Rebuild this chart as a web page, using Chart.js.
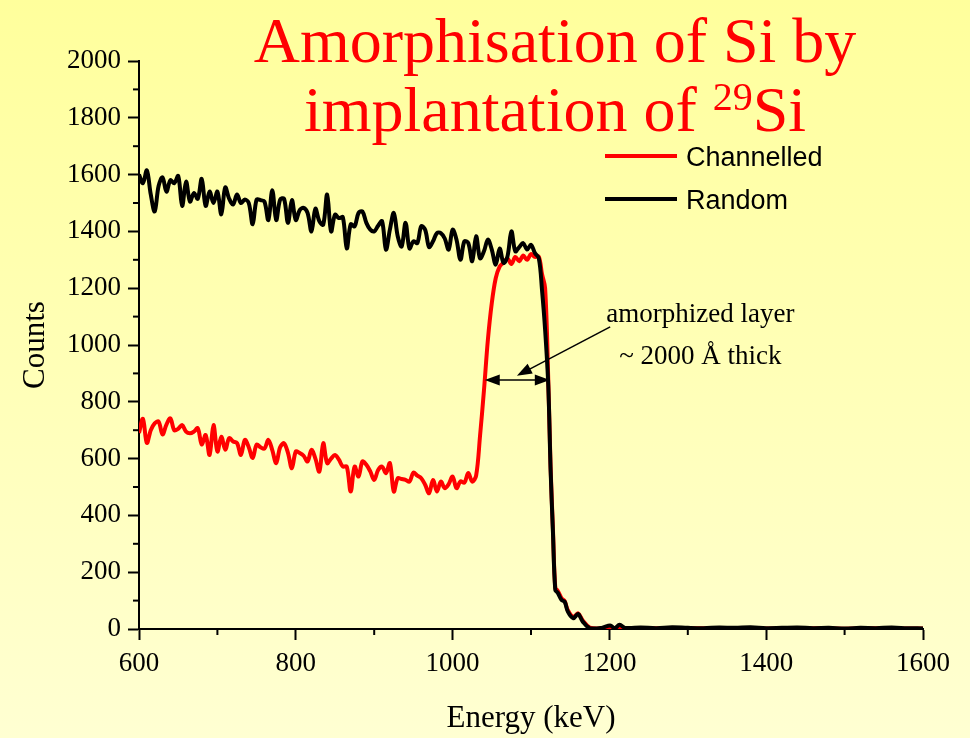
<!DOCTYPE html>
<html>
<head>
<meta charset="utf-8">
<script src="https://cdn.jsdelivr.net/npm/chart.js@4"></script>
<style>
  html, body { margin: 0; padding: 0; }
  body { width: 970px; height: 738px; background: linear-gradient(#ffff9c, #ffffd2); overflow: hidden; }
  canvas { display: block; }
</style>
</head>
<body>
<canvas id="chart" width="970" height="738"></canvas>
<script>
// energies in keV
const energy = [
  600, 605, 610, 615, 620, 625, 630, 635, 640, 645,
  650, 655, 660, 665, 670, 675, 680, 685, 690, 695,
  700, 705, 710, 715, 720, 725, 730, 735, 740, 745,
  750, 755, 760, 765, 770, 775, 780, 785, 790, 795,
  800, 805, 810, 815, 820, 825, 830, 835, 840, 845,
  850, 855, 860, 865, 870, 875, 880, 885, 890, 895,
  900, 905, 910, 915, 920, 925, 930, 935, 940, 945,
  950, 955, 960, 965, 970, 975, 980, 985, 990, 995,
  1000, 1005, 1010, 1015, 1020, 1025, 1030, 1035, 1040, 1045,
  1050, 1055, 1060, 1065, 1070, 1075, 1080, 1085, 1090, 1095,
  1100, 1105, 1110,
  1114, 1118, 1122, 1125, 1128, 1131, 1134, 1139, 1143, 1147,
  1154, 1160, 1166, 1175, 1190, 1201, 1207, 1213, 1220,
  1240, 1260, 1280, 1300, 1320, 1340, 1360, 1380, 1400, 1420,
  1440, 1460, 1480, 1500, 1520, 1540, 1560, 1580, 1600
]

const randomCounts = [
  1600, 1570, 1615, 1530, 1470, 1560, 1590, 1540, 1580, 1570,
  1595, 1490, 1575, 1505, 1535, 1515, 1585, 1490, 1540, 1500,
  1540, 1460, 1555, 1515, 1495, 1530, 1500, 1512, 1500, 1425,
  1512, 1510, 1505, 1440, 1545, 1440, 1512, 1515, 1430, 1510,
  1440, 1475, 1483, 1465, 1400, 1480, 1436, 1424, 1530, 1400,
  1459, 1447, 1450, 1340, 1425, 1418, 1465, 1470, 1430, 1406,
  1400, 1420, 1436, 1336, 1406, 1465, 1383, 1347, 1430, 1340,
  1365, 1359, 1418, 1406, 1345, 1365, 1394, 1394, 1375, 1336,
  1406, 1371, 1300, 1365, 1359, 1295, 1383, 1305, 1330, 1371,
  1336, 1283, 1340, 1289, 1312, 1400, 1330, 1345, 1359, 1336,
  1353, 1324, 1305,
  1195, 1054, 860, 560, 340, 137, 128, 102, 96, 61,
  38, 53, 26, 3, 4, 12, 3, 15, 4,
  5, 3, 6, 4, 3, 5, 4, 6, 3, 4,
  5, 3, 4, 2, 4, 3, 5, 3, 2
]

const channelledCounts = [
  690, 740, 655, 700, 724, 730, 685, 720, 742, 700,
  705, 718, 695, 689, 695, 707, 650, 683, 613, 718,
  625, 677, 631, 672, 660, 655, 613, 666, 640, 602,
  649, 640, 635, 666, 630, 584, 640, 654, 620, 566,
  625, 620, 610, 590, 631, 600, 554, 654, 584, 600,
  613, 596, 572, 572, 484, 572, 537, 590, 578, 555,
  525, 560, 572, 549, 584, 484, 531, 528, 525, 519,
  551, 540, 531, 508, 478, 525, 484, 519, 496, 510,
  537, 496, 520, 515, 549, 519, 540, 680, 840, 1018,
  1148, 1235, 1276, 1290, 1305, 1285, 1310, 1295, 1315, 1300,
  1320, 1310, 1311,
  1250, 1200, 880, 570, 350, 145, 135, 108, 98, 66,
  42, 55, 30, 5, 2, 4, 2, 3, 2,
  2, 3, 1, 2, 3, 2, 1, 3, 2, 2,
  1, 3, 2, 1, 2, 3, 1, 2, 2
]

const seriesNames = ['Channelled', 'Random']
const seriesColors = ['#ff0000', '#000000']

function toPoints (values) {
  return values.map(function (v, i) { return { x: energy[i], y: v } })
}

const serif = '"Liberation Serif", "Times New Roman", serif'
const sans = '"Liberation Sans", Arial, sans-serif'

// minor ticks, titles, legend and annotation
const decorations = {
  id: 'decorations',
  afterDraw: function (chart) {
    const ctx = chart.ctx
    const xs = chart.scales.x
    const ys = chart.scales.y
    const area = chart.chartArea
    ctx.save()
    ctx.strokeStyle = '#000'
    ctx.lineWidth = 2
    for (let v = 100; v < 2000; v += 200) {
      const py = ys.getPixelForValue(v)
      ctx.beginPath(); ctx.moveTo(area.left - 6, py); ctx.lineTo(area.left, py); ctx.stroke()
    }
    for (let v = 700; v < 1600; v += 200) {
      const px = xs.getPixelForValue(v)
      ctx.beginPath(); ctx.moveTo(px, area.bottom); ctx.lineTo(px, area.bottom + 6); ctx.stroke()
    }

    // title
    ctx.fillStyle = '#ff0000'
    ctx.textBaseline = 'alphabetic'
    ctx.textAlign = 'center'
    ctx.font = '64px ' + serif
    ctx.fillText('Amorphisation of Si by', 555, 62)
    const part1 = 'implantation of '
    const sup = '29'
    const part2 = 'Si'
    ctx.font = '64px ' + serif
    const w1 = ctx.measureText(part1).width
    const w3 = ctx.measureText(part2).width
    ctx.font = '40px ' + serif
    const w2 = ctx.measureText(sup).width
    let x0 = 555 - (w1 + w2 + w3) / 2
    ctx.textAlign = 'left'
    ctx.font = '64px ' + serif
    ctx.fillText(part1, x0, 131)
    ctx.font = '40px ' + serif
    ctx.fillText(sup, x0 + w1, 110)
    ctx.font = '64px ' + serif
    ctx.fillText(part2, x0 + w1 + w2, 131)

    // axis titles
    ctx.fillStyle = '#000'
    ctx.font = '31px ' + serif
    ctx.textAlign = 'center'
    ctx.fillText('Energy (keV)', (area.left + area.right) / 2, 727)
    ctx.save()
    ctx.translate(44, (area.top + area.bottom) / 2)
    ctx.rotate(-Math.PI / 2)
    ctx.fillText('Counts', 0, 0)
    ctx.restore()

    // legend
    const legendY = [156, 199]
    ctx.font = '27px ' + sans
    ctx.textAlign = 'left'
    seriesNames.forEach(function (name, i) {
      ctx.strokeStyle = seriesColors[i]
      ctx.lineWidth = 4
      ctx.beginPath(); ctx.moveTo(605, legendY[i]); ctx.lineTo(677, legendY[i]); ctx.stroke()
      ctx.fillStyle = '#000'
      ctx.fillText(name, 686, legendY[i] + 10)
    })

    // annotation
    ctx.font = '27px ' + serif
    ctx.textAlign = 'center'
    ctx.fillStyle = '#000'
    const tx = xs.getPixelForValue(1316)
    ctx.fillText('amorphized layer', tx, ys.getPixelForValue(1082))
    ctx.fillText('~ 2000 Å thick', tx, ys.getPixelForValue(934))

    function arrow (x1, y1, x2, y2) {
      const a = Math.atan2(y2 - y1, x2 - x1)
      const len = 15
      const half = 5.5
      ctx.beginPath()
      ctx.moveTo(x2, y2)
      ctx.lineTo(x2 - len * Math.cos(a) + half * Math.sin(a), y2 - len * Math.sin(a) - half * Math.cos(a))
      ctx.lineTo(x2 - len * Math.cos(a) - half * Math.sin(a), y2 - len * Math.sin(a) + half * Math.cos(a))
      ctx.closePath()
      ctx.fill()
    }
    ctx.strokeStyle = '#000'
    ctx.lineWidth = 1.5
    const lx = xs.getPixelForValue(1041)
    const rx = xs.getPixelForValue(1124)
    const ay = ys.getPixelForValue(877)
    ctx.beginPath(); ctx.moveTo(lx + 8, ay); ctx.lineTo(rx - 8, ay); ctx.stroke()
    arrow(rx, ay, lx, ay)
    arrow(lx, ay, rx, ay)
    const px1 = xs.getPixelForValue(1201)
    const py1 = ys.getPixelForValue(1064)
    const px2 = xs.getPixelForValue(1082)
    const py2 = ys.getPixelForValue(892)
    ctx.beginPath(); ctx.moveTo(px1, py1); ctx.lineTo(px2 + 8, py2 - 4); ctx.stroke()
    arrow(px1, py1, px2, py2)
    ctx.restore()
  }
}

function plainLabel (value) {
  return String(value)
}

const ctx = document.getElementById('chart').getContext('2d')
const chart = new Chart(ctx, {
  type: 'line',
  data: {
    datasets: [
      {
        label: seriesNames[0],
        data: toPoints(channelledCounts),
        borderColor: seriesColors[0],
        borderWidth: 4,
        borderJoinStyle: 'round',
        pointRadius: 0,
        tension: 0.35,
        order: 1
      },
      {
        label: seriesNames[1],
        data: toPoints(randomCounts),
        borderColor: seriesColors[1],
        borderWidth: 4,
        borderJoinStyle: 'round',
        pointRadius: 0,
        tension: 0.35,
        order: 0
      }
    ]
  },
  options: {
    responsive: false,
    animation: false,
    devicePixelRatio: 1,
    layout: { padding: { top: 61, right: 47, left: 0, bottom: 0 } },
    plugins: { legend: { display: false }, tooltip: { enabled: false } },
    scales: {
      x: {
        type: 'linear',
        min: 600,
        max: 1600,
        afterFit: function (scale) { scale.height = 109 },
        ticks: { stepSize: 200, color: '#000', padding: 8, font: { family: serif, size: 27 }, maxRotation: 0, callback: plainLabel },
        grid: { drawOnChartArea: false, tickLength: 11, tickColor: '#000', tickWidth: 2 },
        border: { display: true, color: '#000', width: 2 }
      },
      y: {
        min: 0,
        max: 2000,
        afterFit: function (scale) { scale.width = 139 },
        ticks: { stepSize: 200, color: '#000', padding: 7, font: { family: serif, size: 27 }, callback: plainLabel },
        grid: { drawOnChartArea: false, tickLength: 11, tickColor: '#000', tickWidth: 2 },
        border: { display: true, color: '#000', width: 2 }
      }
    }
  },
  plugins: [decorations]
})
</script>
</body>
</html>
